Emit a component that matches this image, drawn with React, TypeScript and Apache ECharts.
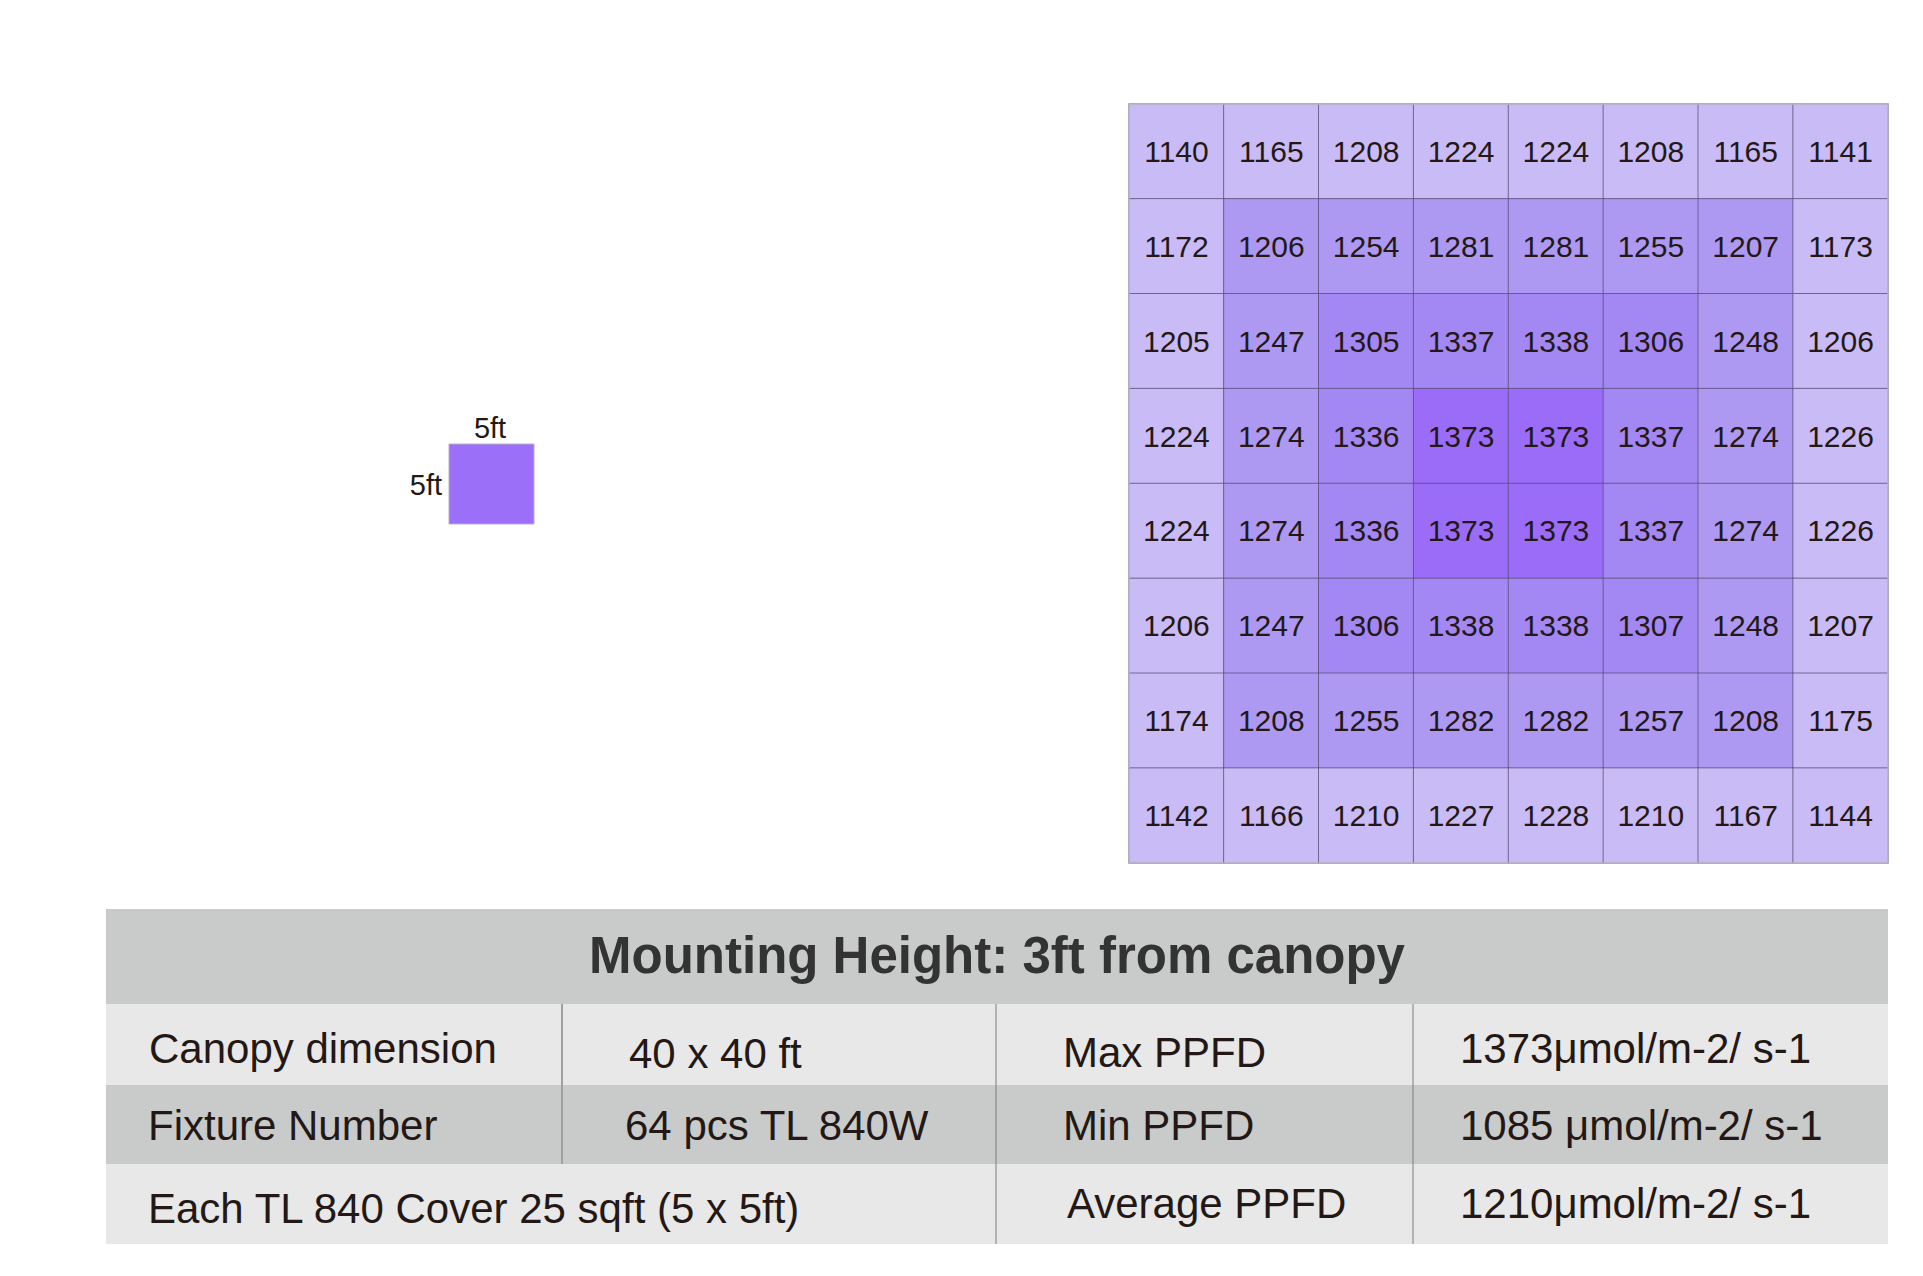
import React, { useEffect, useRef } from "react";
import * as echarts from "echarts";

// PPFD grid values (rows top to bottom, columns left to right)
const row0 = [1140, 1165, 1208, 1224, 1224, 1208, 1165, 1141];
const row1 = [1172, 1206, 1254, 1281, 1281, 1255, 1207, 1173];
const row2 = [1205, 1247, 1305, 1337, 1338, 1306, 1248, 1206];
const row3 = [1224, 1274, 1336, 1373, 1373, 1337, 1274, 1226];
const row4 = [1224, 1274, 1336, 1373, 1373, 1337, 1274, 1226];
const row5 = [1206, 1247, 1306, 1338, 1338, 1307, 1248, 1207];
const row6 = [1174, 1208, 1255, 1282, 1282, 1257, 1208, 1175];
const row7 = [1142, 1166, 1210, 1227, 1228, 1210, 1167, 1144];
const gridRows = [row0, row1, row2, row3, row4, row5, row6, row7];

const xCategories = ["c1", "c2", "c3", "c4", "c5", "c6", "c7", "c8"];
const yCategories = ["r1", "r2", "r3", "r4", "r5", "r6", "r7", "r8"];

// Colour by ring (outer -> centre)
const ringColors = ["#c9bbf6", "#ad99f2", "#a387f3", "#9a6cf8"];

// Table texts
const headerTitle = "Mounting Height: 3ft from canopy";
const tableLabels = ["Canopy dimension", "Fixture Number", "Each TL 840 Cover 25 sqft (5 x 5ft)"];
const tableValues = ["40 x 40 ft", "64 pcs TL 840W"];
const ppfdLabels = ["Max PPFD", "Min PPFD", "Average PPFD"];
const ppfdValues = ["1373μmol/m-2/ s-1", "1085 μmol/m-2/ s-1", "1210μmol/m-2/ s-1"];
const fixtureSideLabel = "5ft";

const FONT = "'Liberation Sans', Arial, Helvetica, sans-serif";
const TXT = "#231815";

export default function App() {
  const ref = useRef<HTMLDivElement>(null);

  useEffect(() => {
    if (!ref.current) return;
    const chart = echarts.init(ref.current, null, { renderer: "svg" });

    const n = gridRows.length;
    const data: any[] = [];
    gridRows.forEach((row, r) => {
      row.forEach((v, c) => {
        const ring = Math.min(r, c, n - 1 - r, n - 1 - c);
        data.push([c, r, v, ring]);
      });
    });

    const gLeft = 1129, gTop = 104, gSize = 759;
    const tL = 106, tR = 1888;
    const yH0 = 909, yH1 = 1004, yR1 = 1085, yR2 = 1164, yR3 = 1244;
    const dark = "#c9caca", light = "#e8e8e8";

    const textEl = (text: string, x: number, y: number, size: number, extra: any = {}) => ({
      type: "text",
      x,
      y,
      z: 10,
      style: {
        text,
        fill: TXT,
        font: `${extra.weight || "normal"} ${size}px ${FONT}`,
        align: extra.align || "left",
        verticalAlign: "middle",
      },
    });

    const graphics: any[] = [
      // Fixture illustration
      {
        type: "rect",
        shape: { x: 449, y: 444, width: 85, height: 80 },
        style: { fill: "#9b6ff8", stroke: "#b7b0c8", lineWidth: 1 },
      },
      textEl(fixtureSideLabel, 490, 428, 29, { align: "center" }),
      textEl(fixtureSideLabel, 442, 485, 29, { align: "right" }),
      // Grid outer frame
      {
        type: "rect",
        z: 20,
        shape: { x: gLeft, y: gTop, width: gSize, height: gSize },
        style: { fill: "none", stroke: "#b9b6c4", lineWidth: 1.5 },
      },
      // Table backgrounds
      { type: "rect", shape: { x: tL, y: yH0, width: tR - tL, height: yH1 - yH0 }, style: { fill: dark } },
      { type: "rect", shape: { x: tL, y: yH1, width: tR - tL, height: yR1 - yH1 }, style: { fill: light } },
      { type: "rect", shape: { x: tL, y: yR1, width: tR - tL, height: yR2 - yR1 }, style: { fill: dark } },
      { type: "rect", shape: { x: tL, y: yR2, width: tR - tL, height: yR3 - yR2 }, style: { fill: light } },
      // Dividers
      { type: "line", z: 5, shape: { x1: 562, y1: yH1, x2: 562, y2: yR2 }, style: { stroke: "#a0a0a0", lineWidth: 2 } },
      { type: "line", z: 5, shape: { x1: 996, y1: yH1, x2: 996, y2: yR3 }, style: { stroke: "#7d7d7d", lineWidth: 1 } },
      { type: "line", z: 5, shape: { x1: 1413, y1: yH1, x2: 1413, y2: yR3 }, style: { stroke: "#7d7d7d", lineWidth: 1 } },
      // Header title
      {
        type: "text",
        x: (tL + tR) / 2,
        y: 955,
        z: 10,
        style: {
          text: headerTitle,
          fill: "#333333",
          font: `bold 51px ${FONT}`,
          align: "center",
          verticalAlign: "middle",
        },
      },
      textEl(tableLabels[0], 149, 1048, 42),
      textEl(tableValues[0], 629, 1053, 42),
      textEl(ppfdLabels[0], 1063, 1052, 42),
      textEl(ppfdValues[0], 1460, 1048, 42),
      textEl(tableLabels[1], 148, 1125, 42),
      textEl(tableValues[1], 625, 1125, 42),
      textEl(ppfdLabels[1], 1063, 1125, 42),
      textEl(ppfdValues[1], 1460, 1125, 42),
      textEl(tableLabels[2], 148, 1208, 42),
      textEl(ppfdLabels[2], 1067, 1203, 42),
      textEl(ppfdValues[2], 1460, 1203, 42),
    ];

    chart.setOption({
      animation: false,
      backgroundColor: "#ffffff",
      grid: { left: gLeft, top: gTop, width: gSize, height: gSize, containLabel: false },
      xAxis: {
        type: "category",
        data: xCategories,
        axisLine: { show: false },
        axisTick: { show: false },
        axisLabel: { show: false },
        splitLine: { show: false },
        splitArea: { show: false },
      },
      yAxis: {
        type: "category",
        data: yCategories,
        inverse: true,
        axisLine: { show: false },
        axisTick: { show: false },
        axisLabel: { show: false },
        splitLine: { show: false },
        splitArea: { show: false },
      },
      visualMap: {
        type: "piecewise",
        show: false,
        dimension: 3,
        pieces: ringColors.map((color, i) => ({ value: i, color })),
      },
      series: [
        {
          type: "heatmap",
          data,
          itemStyle: { borderColor: "rgba(90,78,120,0.75)", borderWidth: 1 },
          label: {
            show: true,
            fontSize: 30,
            fontFamily: FONT,
            color: TXT,
            formatter: (p: any) => String(p.value[2]),
          },
          emphasis: { disabled: true },
        },
      ],
      graphic: graphics,
    });

    return () => chart.dispose();
  }, []);

  return (
    <div
      ref={ref}
      style={{ position: "fixed", left: 0, top: 0, width: 1923, height: 1276, background: "#fff" }}
    />
  );
}
